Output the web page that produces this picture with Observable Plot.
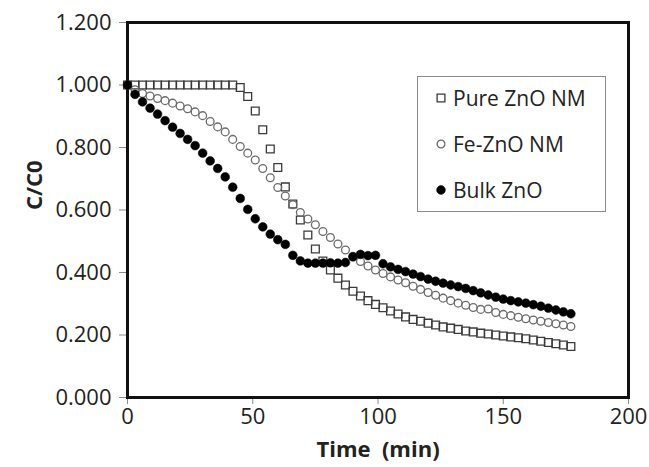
<!DOCTYPE html>
<html>
<head>
<meta charset="utf-8">
<script src="https://cdn.jsdelivr.net/npm/d3@7"></script>
<script src="https://cdn.jsdelivr.net/npm/@observablehq/plot@0.6"></script>
<style>
  body { margin: 0; background: #fff; }
  #wrap { position: relative; width: 649px; height: 467px; font-family: "Open Sans", sans-serif; }
  #legend { position: absolute; left: 417px; top: 76px; width: 189px; height: 136px; border: 1px solid #8a8a8a; box-sizing: border-box; background: #fff; }
  .row { position: absolute; left: 0; height: 30px; display: flex; align-items: center; }
  .row svg { margin-left: 17px; }
  .row span { margin-left: 6px; font-size: 21px; color: #222; white-space: nowrap; }
</style>
</head>
<body>
<div id="wrap"><div id="chart"></div><div id="legend"></div></div>
<script>
// ---- data ----
const times = [0,3,6,9,12,15,18,21,24,27,30,33,36,39,42,45,48,51,54,57,60,63,66,69,72,75,78,81,84,87,90,93,96,99,102,105,108,111,114,117,120,123,126,129,132,135,138,141,144,147,150,153,156,159,162,165,168,171,174,177];

const pureZnO = [1.000,1.000,1.000,1.000,1.000,1.000,1.000,1.000,1.000,1.000,1.000,1.000,1.000,1.000,1.000,
  0.992,0.963,0.917,0.857,0.795,0.736,0.674,0.619,0.568,0.520,0.475,0.437,0.408,0.382,0.360,0.340,0.325,0.310,0.298,0.287,0.277,0.267,
  0.258,0.250,0.244,0.238,0.232,0.226,0.222,0.218,0.213,0.210,0.206,0.203,0.200,0.197,0.194,0.191,0.188,0.184,0.180,0.176,0.172,0.168,0.163];

const feZnO = [1.000,0.985,0.973,0.965,0.957,0.950,0.942,0.933,0.924,0.914,0.902,0.883,0.866,0.850,0.826,
  0.803,0.782,0.760,0.733,0.703,0.672,0.645,0.617,0.592,0.571,0.553,0.531,0.512,0.491,0.472,0.452,0.435,0.421,0.408,0.397,0.386,0.376,
  0.367,0.356,0.346,0.336,0.327,0.318,0.310,0.302,0.295,0.288,0.282,0.283,0.272,0.266,0.262,0.257,0.252,0.248,0.244,0.240,0.236,0.232,0.227];

const bulkZnO = [1.000,0.970,0.946,0.926,0.907,0.886,0.865,0.845,0.826,0.806,0.782,0.757,0.733,0.706,0.673,
  0.637,0.602,0.572,0.546,0.523,0.505,0.490,0.455,0.437,0.430,0.430,0.430,0.431,0.430,0.432,0.450,0.458,0.454,0.455,0.428,0.418,0.410,
  0.403,0.395,0.387,0.379,0.372,0.366,0.360,0.355,0.349,0.342,0.335,0.328,0.321,0.315,0.310,0.306,0.302,0.297,0.292,0.286,0.280,0.274,0.268];

const seriesNames = ["Pure ZnO NM", "Fe-ZnO NM", "Bulk ZnO"];
const xTicks = [0, 50, 100, 150, 200];
const yTicks = [0, 0.2, 0.4, 0.6, 0.8, 1.0, 1.2];
const xLabel = "Time\u00a0 (min)";
const yLabel = "C/C0";

// ---- styles ----
const styles = [
  {symbol: "square", r: 4.4, stroke: "#3a3a3a", fill: "none", strokeWidth: 1.3},
  {symbol: "circle", r: 3.9, stroke: "#6a6a6a", fill: "none", strokeWidth: 1.3},
  {symbol: "circle", r: 4.4, stroke: "black", fill: "black", strokeWidth: 0.5}
];

const values = [pureZnO, feZnO, bulkZnO];
const tables = values.map(vals => times.map((t, i) => ({t, v: vals[i]})));

const chart = Plot.plot({
  width: 649, height: 467,
  marginLeft: 127, marginRight: 21, marginTop: 22, marginBottom: 70,
  x: {domain: [0, 200]},
  y: {domain: [0, 1.2]},
  style: {fontFamily: "'Open Sans', sans-serif", fontSize: "22px", color: "#222", background: "white", overflow: "visible"},
  marks: [
    Plot.axisY({ticks: yTicks, tickFormat: d3.format(".3f"), tickSize: 8, tickPadding: 8, stroke: "#8a8a8a", label: null}),
    Plot.axisX({ticks: xTicks, tickSize: 7, tickPadding: 4, stroke: "#8a8a8a", label: null}),
    Plot.frame({stroke: "#111", strokeWidth: 3}),
    ...tables.map((tab, i) => Plot.dot(tab, {x: "t", y: "v", ...styles[i]})),
    Plot.text([xLabel], {frameAnchor: "bottom", dy: 59, fontWeight: "bold", fontSize: 22, fill: "#222"}),
    Plot.text([yLabel], {frameAnchor: "left", dx: -93, rotate: -90, fontWeight: "bold", fontSize: 22, fill: "#222"})
  ]
});
document.getElementById("chart").appendChild(chart);

// ---- legend (inside plot area, top right) ----
const legend = document.getElementById("legend");
const rowCenters = [21, 67, 113];
seriesNames.forEach((name, i) => {
  const row = document.createElement("div");
  row.className = "row";
  row.style.top = (rowCenters[i] - 15) + "px";
  const s = styles[i];
  const sym = d3.symbol(s.symbol === "square" ? d3.symbolSquare : d3.symbolCircle, Math.PI * s.r * s.r)();
  row.innerHTML = `<svg width="12" height="12" viewBox="-6 -6 12 12"><path d="${sym}" fill="${s.fill}" stroke="${s.stroke}" stroke-width="${s.strokeWidth}"/></svg><span>${name}</span>`;
  legend.appendChild(row);
});
</script>
</body>
</html>
